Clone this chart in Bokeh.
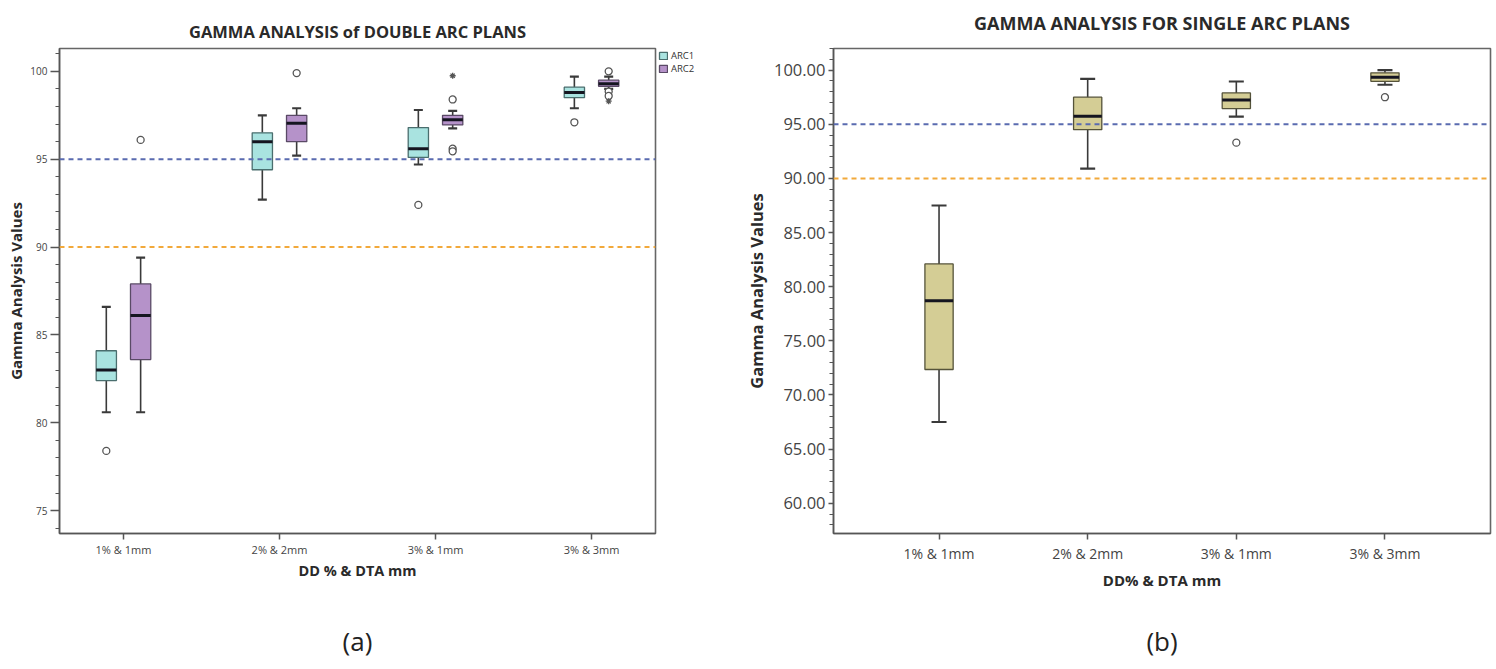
from bokeh.plotting import figure
from bokeh.models import (ColumnDataSource, FixedTicker, Legend, LegendItem, Span,
                          NumeralTickFormatter)
from bokeh.core.properties import value
from bokeh.transform import dodge
from bokeh.layouts import row, column
from bokeh.embed import file_html
from bokeh.resources import INLINE

# ---------------- data ----------------
categories = ["1% & 1mm", "2% & 2mm", "3% & 1mm", "3% & 3mm"]

# (a) double arc plans — ARC1
arc1_low = [80.6, 92.7, 94.7, 97.9]
arc1_q1 = [82.4, 94.4, 95.1, 98.5]
arc1_med = [83.0, 96.0, 95.6, 98.8]
arc1_q3 = [84.1, 96.5, 96.8, 99.1]
arc1_high = [86.6, 97.5, 97.8, 99.7]
arc1_out_cat = ["1% & 1mm", "3% & 1mm", "3% & 3mm"]
arc1_out_val = [78.4, 92.4, 97.1]

# (a) double arc plans — ARC2
arc2_low = [80.6, 95.2, 96.75, 99.0]
arc2_q1 = [83.6, 96.0, 96.95, 99.15]
arc2_med = [86.1, 97.05, 97.25, 99.3]
arc2_q3 = [87.9, 97.5, 97.5, 99.5]
arc2_high = [89.4, 97.9, 97.75, 99.7]
arc2_out_cat = ["1% & 1mm", "2% & 2mm", "3% & 1mm", "3% & 1mm", "3% & 1mm",
                "3% & 3mm", "3% & 3mm", "3% & 3mm"]
arc2_out_val = [96.1, 99.9, 98.4, 95.6, 95.45, 100.0, 98.85, 98.6]
arc2_ext_cat = ["3% & 1mm", "3% & 3mm"]
arc2_ext_val = [99.75, 98.3]

series_names = ["ARC1", "ARC2"]
series_fill = ["#a9e3e0", "#b592c9"]
series_line = ["#4a6e6e", "#5a4a66"]

# (b) single arc plans
single_low = [67.5, 90.9, 95.7, 98.65]
single_q1 = [72.35, 94.5, 96.45, 98.97]
single_med = [78.7, 95.75, 97.25, 99.35]
single_q3 = [82.1, 97.5, 97.9, 99.75]
single_high = [87.5, 99.2, 98.95, 100.0]
single_out_cat = ["3% & 1mm", "3% & 3mm"]
single_out_val = [93.3, 97.5]

# reference thresholds
threshold_values = [95, 90]
threshold_colors = ["#5a6bb0", "#f2a93b"]

titles = ["GAMMA ANALYSIS of DOUBLE ARC PLANS", "GAMMA ANALYSIS FOR SINGLE ARC PLANS"]
captions = ["(a)", "(b)"]

left_major_ticks = [75, 80, 85, 90, 95, 100]
left_minor_ticks = [74, 76, 77, 78, 79, 81, 82, 83, 84, 86, 87, 88, 89, 91, 92, 93, 94,
                    96, 97, 98, 99, 101]
right_major_ticks = [60, 65, 70, 75, 80, 85, 90, 95, 100]
right_minor_ticks = [58, 59, 61, 62, 63, 64, 66, 67, 68, 69, 71, 72, 73, 74, 76, 77, 78, 79,
                     81, 82, 83, 84, 86, 87, 88, 89, 91, 92, 93, 94, 96, 97, 98, 99, 101, 102]

FONT = "Open Sans"
AXIS_COL = "#555555"
TEXT_COL = "#2a2a2a"
H_TOP = 44      # title strip
H_MAIN = 576    # plot panels
H_CAP = 40      # caption strip


def positions(cats):
    return [categories.index(c) for c in cats]


def draw_series(p, low, q1, med, q3, high, offset, width, fill, outline, cap_px):
    src = ColumnDataSource(dict(pos=positions(categories), low=low, q1=q1, med=med,
                                q3=q3, high=high))
    x = dodge("pos", offset)
    p.segment(x0=x, y0="q3", x1=x, y1="high", line_color="#3a3a3a", line_width=1.6, source=src)
    p.segment(x0=x, y0="q1", x1=x, y1="low", line_color="#3a3a3a", line_width=1.6, source=src)
    p.scatter(x=x, y="high", marker="dash", size=cap_px, line_color="#3a3a3a", line_width=2.2, source=src)
    p.scatter(x=x, y="low", marker="dash", size=cap_px, line_color="#3a3a3a", line_width=2.2, source=src)
    vb = p.vbar(x=x, width=width, bottom="q1", top="q3", fill_color=fill, line_color=outline,
                line_width=1.3, source=src)
    p.segment(x0=dodge("pos", offset - width / 2), y0="med", x1=dodge("pos", offset + width / 2),
              y1="med", line_color="#151520", line_width=3, source=src)
    return vb


def draw_points(p, cats, vals, offset, marker, size, fill="white"):
    src = ColumnDataSource(dict(pos=positions(cats), val=vals))
    p.scatter(x=dodge("pos", offset), y="val", marker=marker, size=size, fill_color=fill,
              line_color="#555555", line_width=1.3, source=src)


def add_thresholds(p):
    for v, c in zip(threshold_values, threshold_colors):
        p.add_layout(Span(location=v, dimension="width", line_color=c, line_width=2,
                          line_dash="5 4"))


def style(p, tick_px, label_px, ytick_px, major_out, ylabel_standoff, xlabel_standoff,
          xlabel_tick_standoff):
    p.grid.visible = False
    p.outline_line_color = "#666666"
    p.outline_line_width = 1.6
    p.background_fill_color = "white"
    p.border_fill_color = "white"
    for ax in (p.xaxis[0], p.yaxis[0]):
        ax.axis_line_color = AXIS_COL
        ax.axis_line_width = 1.5
        ax.major_tick_line_color = AXIS_COL
        ax.major_tick_line_width = 1.5
        ax.minor_tick_line_color = AXIS_COL
        ax.major_tick_in = 0
        ax.minor_tick_in = 0
        ax.major_label_text_font = FONT
        ax.major_label_text_color = "#444444"
        ax.axis_label_text_font = FONT
        ax.axis_label_text_font_style = "bold"
        ax.axis_label_text_color = TEXT_COL
        ax.axis_label_text_font_size = label_px
    p.xaxis.major_label_text_font_size = tick_px
    p.yaxis.major_label_text_font_size = ytick_px
    p.xaxis.ticker = FixedTicker(ticks=positions(categories))
    p.xaxis.major_label_overrides = {i: c for i, c in zip(positions(categories), categories)}
    p.xaxis.major_tick_out = 6
    p.yaxis.major_tick_out = major_out
    p.yaxis.minor_tick_out = 4
    p.yaxis.major_label_standoff = 3
    p.yaxis.axis_label_standoff = ylabel_standoff
    p.xaxis.axis_label_standoff = xlabel_standoff
    p.xaxis.major_label_standoff = xlabel_tick_standoff


def blank_fig(width, height, left, right, top, y_range=(0, 1)):
    c = figure(width=width, height=height, x_range=(0, 1), y_range=y_range,
               output_backend="svg", toolbar_location=None,
               x_axis_location=None, y_axis_location=None,
               min_border_left=left, min_border_right=right,
               min_border_top=top, min_border_bottom=0)
    c.grid.visible = False
    c.outline_line_color = None
    c.background_fill_color = "white"
    c.border_fill_color = "white"
    return c


def title_fig(text, width, left, right, y_from_top, size):
    # y range runs top->bottom in pixels of this strip
    c = blank_fig(width, H_TOP, left, right, 0, y_range=(H_TOP, 0))
    c.text(x=[0.5], y=[y_from_top], text=[text], text_align="center", text_baseline="middle",
           text_font=value(FONT), text_font_size=size, text_font_style="bold",
           text_color=TEXT_COL)
    return c


def caption_fig(text, width, left, right):
    c = blank_fig(width, H_CAP, left, right, 0)
    c.text(x=[0.5], y=[0.5], text=[text], text_align="center", text_baseline="middle",
           text_font=value(FONT), text_font_size="26px", text_color="#222222")
    return c


# ---------------- (a) double arc ----------------
W1, L1, R1 = 657, 59, 2
LEG_W = 63
p1 = figure(width=W1, height=H_MAIN, x_range=(-0.41, 3.41), y_range=(73.7, 101.3),
            output_backend="svg", toolbar_location=None,
            min_border_left=L1, min_border_right=R1, min_border_top=48 - H_TOP,
            min_border_bottom=H_MAIN - (533 - H_TOP))
p1.xaxis.axis_label = "DD % & DTA mm"
p1.yaxis.axis_label = "Gamma Analysis Values"
style(p1, "11px", "14.5px", "10px", 9, 1, 1, 2)
p1.yaxis.axis_label_text_font_size = "15px"
p1.yaxis.ticker = FixedTicker(ticks=left_major_ticks, minor_ticks=left_minor_ticks)

add_thresholds(p1)
draw_series(p1, arc1_low, arc1_q1, arc1_med, arc1_q3, arc1_high, -0.11, 0.13,
            series_fill[0], series_line[0], 9)
draw_series(p1, arc2_low, arc2_q1, arc2_med, arc2_q3, arc2_high, 0.11, 0.13,
            series_fill[1], series_line[1], 9)
draw_points(p1, arc1_out_cat, arc1_out_val, -0.11, "circle", 7)
draw_points(p1, arc2_out_cat, arc2_out_val, 0.11, "circle", 7)
draw_points(p1, arc2_ext_cat, arc2_ext_val, 0.11, "asterisk", 6)

# legend sits just outside the right edge of panel (a)
lf = blank_fig(LEG_W, H_MAIN, 0, 0, 48 - H_TOP)
items = []
for name, fc, lc in zip(series_names, series_fill, series_line):
    # swatch-only renderer, kept outside the visible range of this strip
    r = lf.vbar(x=[5], top=[0], bottom=[0], width=0.1, fill_color=fc, line_color=lc,
                line_width=1.3)
    items.append(LegendItem(label=name, renderers=[r]))
leg = Legend(items=items, location="top_left", orientation="vertical")
leg.label_text_font = FONT
leg.label_text_font_size = "9.5px"
leg.label_text_color = "#333333"
leg.glyph_width = 10
leg.glyph_height = 9
leg.label_height = 9
leg.label_standoff = 3
leg.spacing = 0
leg.padding = 1
leg.margin = 0
leg.border_line_alpha = 0
leg.background_fill_alpha = 0
lf.add_layout(leg)

# ---------------- (b) single arc ----------------
W2, L2, R2 = 772, 113, 2
p2 = figure(width=W2, height=H_MAIN, x_range=(-0.71, 3.71), y_range=(57.2, 102.0),
            output_backend="svg", toolbar_location=None,
            min_border_left=L2, min_border_right=R2, min_border_top=45 - H_TOP,
            min_border_bottom=H_MAIN - (533 - H_TOP))
p2.xaxis.axis_label = "DD% & DTA mm"
p2.yaxis.axis_label = "Gamma Analysis Values"
style(p2, "14px", "15px", "16.5px", 5, 3, 4, 4)
p2.yaxis.axis_label_text_font_size = "16.5px"
p2.yaxis.ticker = FixedTicker(ticks=right_major_ticks, minor_ticks=right_minor_ticks)
p2.yaxis.formatter = NumeralTickFormatter(format="0.00")

add_thresholds(p2)
draw_series(p2, single_low, single_q1, single_med, single_q3, single_high, 0.0, 0.19,
            "#d4cd95", "#55533a", 15)
draw_points(p2, single_out_cat, single_out_val, 0.0, "circle", 7)

t1 = title_fig(titles[0], W1 + LEG_W, L1, R1 + LEG_W, 31, "16.5px")
t2 = title_fig(titles[1], W2, L2, R2, 22, "18px")
c1 = caption_fig(captions[0], W1 + LEG_W, L1, R1 + LEG_W)
c2 = caption_fig(captions[1], W2, L2, R2)

layout = column(row(t1, t2), row(p1, lf, p2), row(c1, c2))
open("out.html", "w").write(file_html(layout, INLINE))
